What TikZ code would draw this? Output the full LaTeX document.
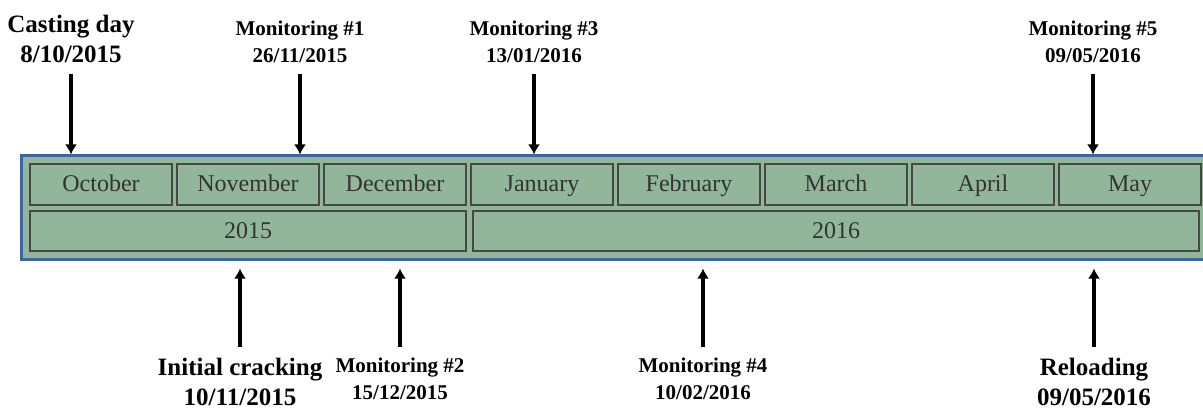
\documentclass[tikz,border=0pt]{standalone}
\usepackage{fontspec}
\setmainfont{Liberation Serif}
\usetikzlibrary{positioning}
\usetikzlibrary{fit}
\usetikzlibrary{arrows.meta}
\definecolor{cellGreen}{HTML}{92B69A}
\definecolor{cellEdge}{HTML}{474747}
\definecolor{frameBlue}{HTML}{3E64A4}
\definecolor{monthText}{HTML}{333333}
\pgfdeclarelayer{frame_bg}
\pgfsetlayers{frame_bg,main}

\begin{document}
\begin{tikzpicture}[x=1pt, y=-1pt, inner sep=0.0 pt, align=center,
    month/.style={rectangle, draw=cellEdge, line width=1.5pt, fill=cellGreen, text=monthText, font=\fontsize{24}{28}\selectfont, text height=18pt, text depth=3pt, minimum width=142pt, minimum height=41pt},
    year/.style={month, minimum height=40pt},
    bigLabel/.style={font=\fontsize{25}{30}\selectfont\bfseries, inner ysep=11pt},
    monLabel/.style={font=\fontsize{21}{27}\selectfont\bfseries, inner ysep=11pt},
    event/.style={-{Latex[length=10pt,width=12pt]}, line width=3.5pt}]
    \useasboundingbox (0,0) rectangle (1203,409);

    % months
    \node (oct) [month] at (101,184.5) {October};
    \node (nov) [month, right=3.5pt of oct] {November};
    \node (dec) [month, right=3.5pt of nov] {December};
    \node (jan) [month, right=3.5pt of dec] {January};
    \node (feb) [month, right=3.5pt of jan] {February};
    \node (mar) [month, right=3.5pt of feb] {March};
    \node (apr) [month, right=3.5pt of mar] {April};
    \node (may) [month, right=3.5pt of apr] {May};

    % years
    \node (y2015) [year, minimum width=436pt, below=4.5pt of nov] {2015};
    \node (y2016) [year, minimum width=726pt, below=4.5pt of mar] {2016};

    \begin{pgfonlayer}{frame_bg}
        \node (frame) [draw=frameBlue, line width=2.5pt, fill=cellGreen, inner xsep=8pt, inner ysep=7.5pt, fit=(oct)(may)(y2015)(y2016)] {};
    \end{pgfonlayer}

    % events above
    \node (castDay) [bigLabel, anchor=south] at (71,74) {Casting day\\8/10/2015};
    \node (mon1) [monLabel, anchor=south] at (300,74) {Monitoring \#1\\26/11/2015};
    \node (mon3) [monLabel, anchor=south] at (534,74) {Monitoring \#3\\13/01/2016};
    \node (mon5) [monLabel, anchor=south] at (1093,74) {Monitoring \#5\\09/05/2016};

    \draw [event] (castDay.south) -- (castDay.south |- frame.north);
    \draw [event] (mon1.south) -- (mon1.south |- frame.north);
    \draw [event] (mon3.south) -- (mon3.south |- frame.north);
    \draw [event] (mon5.south) -- (mon5.south |- frame.north);

    % events below
    \node (initCrack) [bigLabel, anchor=north] at (240,347) {Initial cracking\\10/11/2015};
    \node (mon2) [monLabel, anchor=north] at (400,347) {Monitoring \#2\\15/12/2015};
    \node (mon4) [monLabel, anchor=north] at (703,347) {Monitoring \#4\\10/02/2016};
    \node (reload) [bigLabel, anchor=north] at (1094,347) {Reloading\\09/05/2016};

    \draw [event, shorten >=8pt] (initCrack.north) -- (initCrack.north |- frame.south);
    \draw [event, shorten >=8pt] (mon2.north) -- (mon2.north |- frame.south);
    \draw [event, shorten >=8pt] (mon4.north) -- (mon4.north |- frame.south);
    \draw [event, shorten >=8pt] (reload.north) -- (reload.north |- frame.south);
\end{tikzpicture}
\end{document}
